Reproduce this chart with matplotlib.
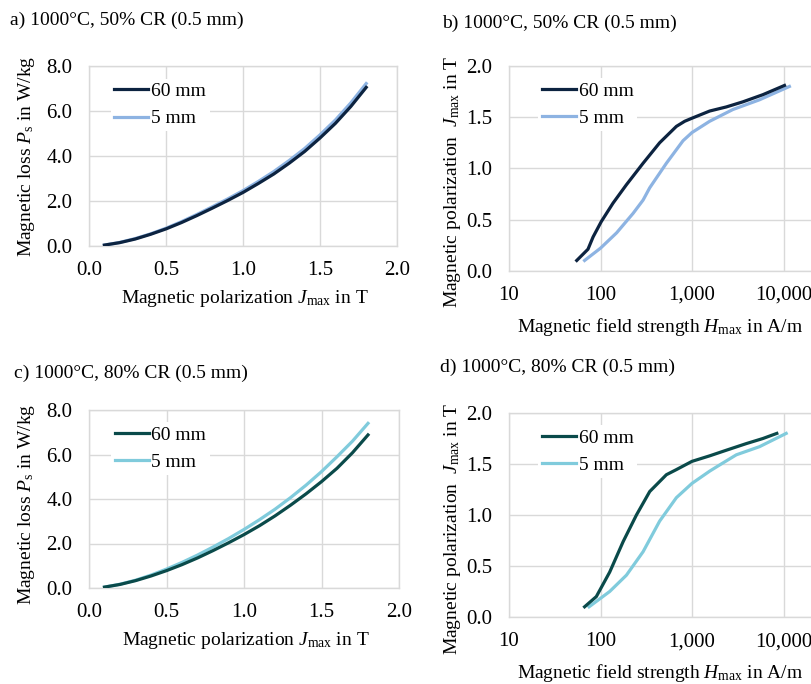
import matplotlib
matplotlib.use("Agg")
import matplotlib.pyplot as plt
from matplotlib.ticker import FixedLocator, FixedFormatter, NullLocator

plt.rcParams['font.family'] = ['Liberation Serif', 'DejaVu Serif']
plt.rcParams['mathtext.fontset'] = 'custom'
plt.rcParams['mathtext.rm'] = 'Liberation Serif'
plt.rcParams['mathtext.it'] = 'Liberation Serif:italic'

# loss curves (a, c)
J_loss = [0.1, 0.2, 0.3, 0.4, 0.5, 0.6, 0.7, 0.8, 0.9, 1.0, 1.1, 1.2, 1.3, 1.4, 1.5, 1.6, 1.7, 1.8]
Ps_a_60 = [0.04, 0.15, 0.31, 0.52, 0.76, 1.04, 1.35, 1.68, 2.02, 2.38, 2.78, 3.20, 3.68, 4.20, 4.80, 5.45, 6.20, 7.05]
Ps_a_5 = [0.04, 0.16, 0.33, 0.54, 0.79, 1.08, 1.40, 1.74, 2.09, 2.46, 2.87, 3.31, 3.80, 4.33, 4.94, 5.60, 6.36, 7.22]
Ps_c_60 = [0.04, 0.16, 0.33, 0.54, 0.78, 1.05, 1.35, 1.68, 2.03, 2.40, 2.80, 3.24, 3.72, 4.23, 4.78, 5.38, 6.08, 6.88]
Ps_c_5 = [0.04, 0.17, 0.35, 0.58, 0.85, 1.15, 1.48, 1.84, 2.22, 2.63, 3.07, 3.54, 4.06, 4.62, 5.23, 5.90, 6.60, 7.40]

# magnetisation curves (b, d)
H_b_60 = [55, 73, 83, 102, 137, 192, 292, 443, 675, 832, 1000, 1560, 2370, 3600, 5960, 10250]
J_b_60 = [0.10, 0.21, 0.33, 0.48, 0.66, 0.84, 1.05, 1.25, 1.41, 1.46, 1.49, 1.56, 1.60, 1.65, 1.72, 1.81]
H_b_5 = [67, 100, 150, 227, 292, 345, 525, 798, 1000, 1560, 2800, 5470, 11600]
J_b_5 = [0.10, 0.22, 0.37, 0.56, 0.69, 0.81, 1.05, 1.27, 1.35, 1.46, 1.575, 1.67, 1.80]
H_d_60 = [67, 90, 126, 177, 247, 345, 525, 675, 1000, 1560, 2370, 3920, 5960, 8450]
J_d_60 = [0.10, 0.20, 0.44, 0.74, 1.00, 1.23, 1.395, 1.445, 1.526, 1.58, 1.635, 1.70, 1.75, 1.80]
H_d_5 = [75, 126, 192, 292, 443, 675, 1000, 1560, 2000, 3050, 5470, 10700]
J_d_5 = [0.10, 0.25, 0.41, 0.64, 0.94, 1.17, 1.31, 1.43, 1.49, 1.59, 1.67, 1.80]

h_ticks = [10, 100, 1000, 10000]
h_labels = ['10', '100', '1,000', '10,000']

navy = '#0c2340'
lightblue = '#8db3e2'
teal = '#0a4a4a'
cyan = '#80cbdc'
grid_c = '#d9d9d9'

fig = plt.figure(figsize=(8.11, 6.84), dpi=100)
W, H = 811.0, 684.0

def make_ax(left, top, right, bottom):
    return fig.add_axes([left / W, 1 - bottom / H, (right - left) / W, (bottom - top) / H])

def style(ax):
    ax.grid(True, color=grid_c, linewidth=1.0)
    ax.set_axisbelow(True)
    for s in ax.spines.values():
        s.set_color(grid_c)
        s.set_linewidth(1.0)
    ax.tick_params(length=0, labelsize=15)
    ax.tick_params(axis='x', pad=11)
    ax.tick_params(axis='y', pad=12)

def leg(ax, anchor):
    lg = ax.legend(loc='upper left', bbox_to_anchor=anchor, fontsize=14, frameon=True,
                   handlelength=1.75, handletextpad=0.12, labelspacing=0.5,
                   borderpad=0.2, borderaxespad=0)
    lg.get_frame().set_edgecolor('none')
    lg.get_frame().set_facecolor('white')
    lg.get_frame().set_alpha(1)

loss_label = r'Magnetic loss $\mathit{P}_\mathrm{s}$ in W/kg'
pol_x_label = r'Magnetic polarization $\mathit{J}_\mathrm{max}$ in T'
pol_y_label = r'Magnetic polarization  $\mathit{J}_\mathrm{max}$ in T'
field_label = r'Magnetic field strength $\mathit{H}_\mathrm{max}$ in A/m'

# a)
ax = make_ax(89, 66, 397, 246)
ax.plot(J_loss, Ps_a_60, color=navy, lw=2.3, label='60 mm', zorder=3)
ax.plot(J_loss, Ps_a_5, color=lightblue, lw=2.3, label='5 mm', zorder=2)
ax.set_xlim(0, 2)
ax.set_ylim(0, 8)
ax.set_xticks([0, 0.5, 1.0, 1.5, 2.0])
ax.set_yticks([0, 2, 4, 6, 8])
ax.xaxis.set_major_formatter(plt.FormatStrFormatter('%.1f'))
ax.yaxis.set_major_formatter(plt.FormatStrFormatter('%.1f'))
style(ax)
ax.set_xlabel(pol_x_label, fontsize=14)
ax.set_ylabel(loss_label, fontsize=14)
ax.xaxis.set_label_coords(0.506, -0.235)
ax.yaxis.set_label_coords(-0.168, 0.5)
leg(ax, (0.07, 0.93))
fig.text(10 / W, 1 - 20 / H, 'a) 1000°C, 50% CR (0.5 mm)', fontsize=14, va='center')

# b)
ax = make_ax(509, 66, 875, 270.7)
ax.plot(H_b_60, J_b_60, color=navy, lw=2.3, label='60 mm', zorder=3)
ax.plot(H_b_5, J_b_5, color=lightblue, lw=2.3, label='5 mm', zorder=2)
ax.set_xscale('log')
ax.set_xlim(10, 100000)
ax.set_ylim(0, 2)
ax.xaxis.set_major_locator(FixedLocator(h_ticks))
ax.xaxis.set_major_formatter(FixedFormatter(h_labels))
ax.xaxis.set_minor_locator(NullLocator())
ax.set_yticks([0, 0.5, 1.0, 1.5, 2.0])
ax.yaxis.set_major_formatter(plt.FormatStrFormatter('%.1f'))
style(ax)
ax.set_xlabel(field_label, fontsize=14)
ax.set_ylabel(pol_y_label, fontsize=14)
ax.xaxis.set_label_coords(0.413, -0.22)
ax.yaxis.set_label_coords(-0.125, 0.433)
leg(ax, (0.08, 0.94))
fig.text(442 / W, 1 - 23 / H, 'b) 1000°C, 50% CR (0.5 mm)', fontsize=14, va='center')

# c)
ax = make_ax(89, 410, 399, 588)
ax.plot(J_loss, Ps_c_60, color=teal, lw=2.3, label='60 mm', zorder=3)
ax.plot(J_loss, Ps_c_5, color=cyan, lw=2.3, label='5 mm', zorder=2)
ax.set_xlim(0, 2)
ax.set_ylim(0, 8)
ax.set_xticks([0, 0.5, 1.0, 1.5, 2.0])
ax.set_yticks([0, 2, 4, 6, 8])
ax.xaxis.set_major_formatter(plt.FormatStrFormatter('%.1f'))
ax.yaxis.set_major_formatter(plt.FormatStrFormatter('%.1f'))
style(ax)
ax.set_xlabel(pol_x_label, fontsize=14)
ax.set_ylabel(loss_label, fontsize=14)
ax.xaxis.set_label_coords(0.506, -0.236)
ax.yaxis.set_label_coords(-0.168, 0.472)
leg(ax, (0.07, 0.93))
fig.text(14 / W, 1 - 373 / H, 'c) 1000°C, 80% CR (0.5 mm)', fontsize=14, va='center')

# d)
ax = make_ax(509, 413, 875, 617)
ax.plot(H_d_60, J_d_60, color=teal, lw=2.3, label='60 mm', zorder=3)
ax.plot(H_d_5, J_d_5, color=cyan, lw=2.3, label='5 mm', zorder=2)
ax.set_xscale('log')
ax.set_xlim(10, 100000)
ax.set_ylim(0, 2)
ax.xaxis.set_major_locator(FixedLocator(h_ticks))
ax.xaxis.set_major_formatter(FixedFormatter(h_labels))
ax.xaxis.set_minor_locator(NullLocator())
ax.set_yticks([0, 0.5, 1.0, 1.5, 2.0])
ax.yaxis.set_major_formatter(plt.FormatStrFormatter('%.1f'))
style(ax)
ax.set_xlabel(field_label, fontsize=14)
ax.set_ylabel(pol_y_label, fontsize=14)
ax.xaxis.set_label_coords(0.413, -0.22)
ax.yaxis.set_label_coords(-0.125, 0.431)
leg(ax, (0.08, 0.94))
fig.text(440 / W, 1 - 367 / H, 'd) 1000°C, 80% CR (0.5 mm)', fontsize=14, va='center')

fig.savefig('out.png', dpi=100)
